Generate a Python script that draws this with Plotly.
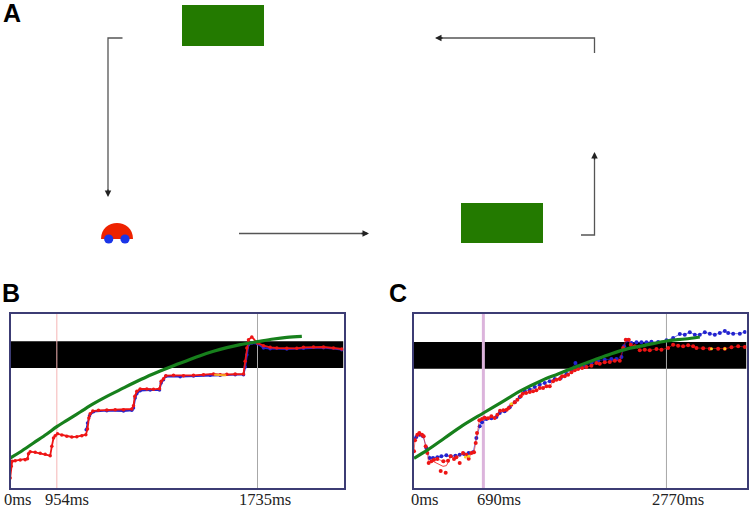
import plotly.graph_objects as go

W, H = 756, 510

# Panel B readings (x in frame units, y = height above frame bottom)
b_green_x = [30,60,100,140,170,200,240,280,320,360,400,440,480,520,560,600,640,680,720,772,820,860,905]
b_green_r = [535,517,490,463,441,422,397,372,350,330,310,291,274,258,243,228,215,204,195,186,178,173,170]
b_red_x = [30,33,36,45,60,75,82,85,90,105,120,135,150,155,160,165,172,185,200,215,230,245,257,262,266,270,278,295,320,345,370,395,400,404,410,420,440,460,478,483,490,497,520,550,580,610,640,660,680,705,730,735,740,745,755,772,790,810,830,860,890,910,940,970,1000,1025]
b_red_r = [595,560,545,543,541,540,537,522,516,518,521,524,528,500,475,468,462,466,470,472,471,468,465,448,415,402,394,392,391,390,390,388,378,350,335,328,328,329,327,305,297,288,287,288,287,285,283,285,284,283,283,245,205,180,172,190,198,203,205,206,206,203,202,202,205,208]
b_blue_x = [258,262,268,280,320,370,395,400,405,410,420,450,478,483,490,497,540,580,630,660,705,730,735,740,745,755,772,790,810,860,910,970,1025]
b_blue_r = [450,430,408,396,393,394,392,385,355,342,333,331,331,310,300,290,291,289,287,287,285,285,262,225,195,190,192,205,207,208,206,204,210]
b_orange_x = [642,650,658,672,678]
b_orange_r = [285,286,286,287,287]
b_band = [185, 265]
b_marks = [170, 772]

# Panel C readings
c_green_x = [108,150,200,250,316,370,430,490,540,590,650,700,750,800,865,920,965]
c_green_r = [536,510,475,440,400,368,332,303,283,263,240,222,207,197,184,178,172]
c_red_x = [108,111,118,124,132,137,143,148,152,160,168,178,196,210,218,228,235,255,265,272,280,288,293,297,304,312,320,330,340,350,358,366,376,386,392,400,410,418,428,434,444,455,465,475,485,495,505,515,525,535,545,552,560,570,580,590,600,612,625,640,655,665,680,695,710,725,735,743,752,758,770,785,800,815,835,850,870,885,900,915,930,945,955,975,995,1020,1040,1060,1080,1100]
c_red_r = [515,482,465,460,465,470,500,520,550,545,540,538,545,543,530,538,533,520,525,537,520,518,490,460,422,418,414,416,410,415,405,393,392,390,385,375,368,360,350,342,340,337,335,332,325,325,320,320,305,300,298,290,290,285,278,272,268,265,262,258,250,252,248,247,243,243,205,180,180,195,200,212,210,212,208,210,205,195,198,200,197,200,205,206,207,207,207,203,200,202]
c_outlier_x = [188,203,245]
c_outlier_r = [574,579,550]
c_dip_x = [165,180,195,205,215]
c_dip_r = [545,552,560,558,540]
c_blue_x = [108,115,125,135,145,155,165,178,190,205,218,232,245,258,272,285,295,305,312,325,340,355,365,380,395,410,425,440,455,470,485,500,515,530,548,565,580,592,605,620,640,660,680,700,715,730,738,748,760,775,790,805,820,840,865,885,905,920,935,950,965,980,995,1010,1025,1040,1050,1065,1085,1100]
c_blue_r = [478,472,465,470,505,535,535,533,530,527,530,528,525,523,520,518,475,440,428,418,416,412,400,395,383,368,352,335,330,322,315,310,305,298,295,283,270,250,262,258,250,243,240,238,238,232,200,182,190,188,188,188,186,187,182,175,163,165,158,165,165,158,162,165,160,154,160,162,162,157]
c_orange_x = [262,272,400,1000,1040]
c_orange_r = [532,530,372,207,207]
c_band = [187, 267]
c_marks = [316, 865]

BOTTOM = 628
up = lambda seq: [BOTTOM - v for v in seq]

RED, BLUE, GREEN = "#ee1515", "#2323cf", "#17801c"
FRAME = "#3c3c74"

fig = go.Figure()

def series(x, r, color, xa, ya, mode="lines+markers", lw=1, ms=3.5, shape="linear"):
    fig.add_trace(go.Scatter(x=x, y=up(r), mode=mode, xaxis=xa, yaxis=ya, showlegend=False,
                             line=dict(color=color, width=lw, shape=shape),
                             marker=dict(color=color, size=ms, line_width=0)))

# Panel B
series(b_blue_x, b_blue_r, BLUE, "x", "y", lw=1.8)
series(b_red_x, b_red_r, RED, "x", "y", lw=1.8)
series(b_orange_x, b_orange_r, "#f5a623", "x", "y", mode="lines", lw=2)
series(b_green_x, b_green_r, GREEN, "x", "y", mode="lines", lw=3.2, shape="spline")

# Panel C
series(c_blue_x, c_blue_r, BLUE, "x2", "y2", lw=0.6, ms=4)
series(c_red_x, c_red_r, RED, "x2", "y2", lw=0.6, ms=4)
series(c_outlier_x, c_outlier_r, RED, "x2", "y2", mode="markers", ms=4)
series(c_dip_x, c_dip_r, RED, "x2", "y2", mode="lines", lw=0.8)
series(c_orange_x, c_orange_r, "#f7d020", "x2", "y2", mode="markers", ms=3)
series(c_green_x, c_green_r, GREEN, "x2", "y2", mode="lines", lw=3.2, shape="spline")

# Invisible trace that creates the full-page subplot used by panel A and the labels
fig.add_trace(go.Scatter(x=[0], y=[0], mode="markers", marker=dict(size=1, opacity=0), xaxis="x3", yaxis="y3",
                         showlegend=False, hoverinfo="skip"))

B_RANGE, C_RANGE, Y_RANGE = (31, 1030), (108, 1105), (3, 525)

shapes = []
# Black bands and vertical markers
for xr, yr, band, marks, colors, widths, rng in (
    ("x", "y", b_band, b_marks, ("#f5b5b5", "#a8a8a8"), (1, 1), B_RANGE),
    ("x2", "y2", c_band, c_marks, ("#dcb4dc", "#a8a8a8"), (3, 1), C_RANGE),
):
    shapes.append(dict(type="rect", xref=xr, yref=yr, x0=rng[0], x1=rng[1], y0=BOTTOM - band[1], y1=BOTTOM - band[0],
                       fillcolor="black", line_width=0, layer="below"))
    for m, c, w in zip(marks, colors, widths):
        shapes.append(dict(type="line", xref=xr, yref=yr, x0=m, x1=m, y0=Y_RANGE[0], y1=Y_RANGE[1],
                           line=dict(color=c, width=w), layer="below"))

# Panel A in page-pixel units
def ax3(s):
    s.update(xref="x3", yref="y3")
    return s

for x0, x1, y0, y1 in ((182, 264, 5, 46), (461, 543, 203, 243)):
    shapes.append(ax3(dict(type="rect", x0=x0, x1=x1, y0=y0, y1=y1, fillcolor="#237a00", line_width=0)))

ARROW = "#555555"
for xs, ys in (([122.5, 108, 108], [38, 38, 194]), ([239, 367], [233.5, 233.5]),
               ([581, 594.5, 594.5], [235, 235, 155]), ([594.5, 594.5, 438], [53, 38, 38])):
    path = "M " + " L ".join(f"{a} {b}" for a, b in zip(xs, ys))
    shapes.append(ax3(dict(type="path", path=path, line=dict(color=ARROW, width=1.3))))

shapes.append(ax3(dict(type="path", path="M 101 239 C 101 217.7 133 217.7 133 239 Z", fillcolor="#ee2200", line_width=0)))
for cx in (108.7, 125):
    shapes.append(ax3(dict(type="circle", x0=cx - 4.6, x1=cx + 4.6, y0=239 - 4.6, y1=239 + 4.6, fillcolor="#1a35e8", line_width=0)))

annotations = []
for x, y, ax_, ay_ in ((108, 197, 108, 188), (369, 233.5, 360, 233.5), (594.5, 152, 594.5, 161), (435, 38, 444, 38)):
    annotations.append(dict(x=x, y=y, ax=ax_, ay=ay_, xref="x3", yref="y3", axref="x3", ayref="y3", text="",
                            showarrow=True, arrowhead=2, arrowsize=1, arrowwidth=1.3, arrowcolor="#222222"))
for text, x, y in (("A", 11.5, 13), ("B", 11, 293), ("C", 398, 293)):
    annotations.append(dict(x=x, y=y, xref="x3", yref="y3", text=text, showarrow=False,
                            font=dict(family="Liberation Sans", size=25, color="black", weight="bold")))
for text, x in (("0ms", 18), ("954ms", 66.7), ("1735ms", 265), ("0ms", 424.7), ("690ms", 499), ("2770ms", 678)):
    annotations.append(dict(x=x, y=499, xref="x3", yref="y3", text=text, showarrow=False,
                            font=dict(family="Liberation Serif", size=16.5, color="#222222")))

frame = dict(showgrid=False, zeroline=False, showticklabels=False, ticks="", showline=True, mirror=True,
             linecolor=FRAME, linewidth=2)
hidden = dict(showgrid=False, zeroline=False, showticklabels=False, ticks="", showline=False, fixedrange=True)

fig.update_layout(
    width=W, height=H, margin=dict(l=0, r=0, t=0, b=0), paper_bgcolor="white", plot_bgcolor="rgba(0,0,0,0)",
    showlegend=False, shapes=shapes, annotations=annotations,
    xaxis=dict(domain=[10.5 / W, 343.5 / W], range=list(B_RANGE), anchor="y", **frame),
    yaxis=dict(domain=[1 - 488 / H, 1 - 314 / H], range=list(Y_RANGE), anchor="x", **frame),
    xaxis2=dict(domain=[414 / W, 746.5 / W], range=list(C_RANGE), anchor="y2", **frame),
    yaxis2=dict(domain=[1 - 488 / H, 1 - 314 / H], range=list(Y_RANGE), anchor="x2", **frame),
    xaxis3=dict(domain=[0, 1], range=[0, W], anchor="y3", **hidden),
    yaxis3=dict(domain=[0, 1], range=[H, 0], anchor="x3", **hidden),
)
fig.write_html("out.html", config=dict(displayModeBar=False),
               post_script="document.body.style.margin='0';")
